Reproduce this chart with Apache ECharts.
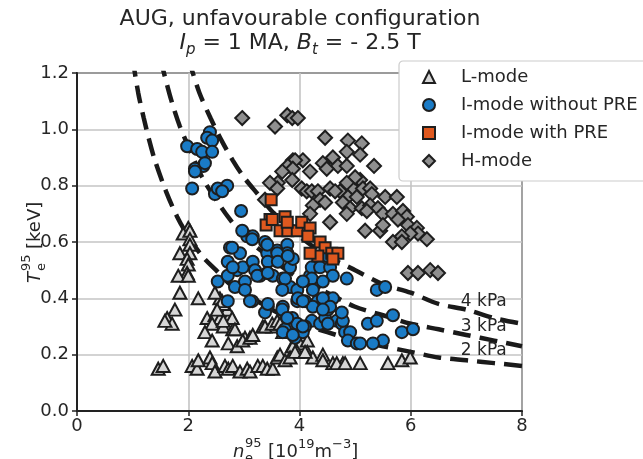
<!DOCTYPE html>
<html><head><meta charset="utf-8">
<script src="https://cdn.jsdelivr.net/npm/echarts@6/dist/echarts.min.js"></script>
<style>html,body{margin:0;padding:0;background:#fff}#c{width:643px;height:459px}</style>
</head><body><div id="c"></div>
<script>
// ---- data ----
const seriesNames = ['L-mode', 'I-mode without PRE', 'I-mode with PRE', 'H-mode'];
const xTicks = [0, 2, 4, 6, 8];
const yTicks = [0.0, 0.2, 0.4, 0.6, 0.8, 1.0, 1.2];

const lMode = [
[2.00,0.65],[1.91,0.63],[2.03,0.64],[2.03,0.61],[2.03,0.59],[1.85,0.56],[2.03,0.56],[1.98,0.54],[2.00,0.52],[1.98,0.49],[1.82,0.48],[2.00,0.48],[1.85,0.42],[2.18,0.40],[1.76,0.36],[1.62,0.33],[1.71,0.31],[1.58,0.32],
[2.34,0.33],[2.48,0.34],[2.57,0.33],[2.72,0.33],[2.43,0.31],[2.63,0.30],[2.30,0.28],[2.80,0.29],[2.70,0.36],[2.57,0.40],[2.63,0.38],[2.48,0.42],[2.61,0.39],[2.52,0.36],[2.79,0.33],[2.63,0.32],[2.84,0.29],[3.02,0.26],[3.34,0.30],[3.52,0.30],[3.70,0.28],[3.87,0.23],[4.01,0.24],[4.14,0.25],[4.14,0.21],[4.24,0.19],[4.42,0.20],[4.60,0.17],[4.78,0.17],
[2.43,0.25],[2.72,0.24],[2.88,0.23],[2.98,0.25],[3.11,0.26],[3.16,0.27],[3.38,0.30],[3.51,0.31],[3.60,0.32],[3.65,0.31],[3.78,0.28],[3.88,0.23],[3.96,0.21],
[1.46,0.15],[1.55,0.16],[2.07,0.16],[2.16,0.15],[2.18,0.18],[2.39,0.19],[2.43,0.17],[2.48,0.14],[2.66,0.16],[2.72,0.15],[2.80,0.16],[2.93,0.14],[3.06,0.15],[3.11,0.14],[3.25,0.16],[3.34,0.16],[3.42,0.15],[3.52,0.15],[3.60,0.19],[3.65,0.20],[3.74,0.18],[3.83,0.19],[3.92,0.21],[4.10,0.21],[4.42,0.18],[4.67,0.17],[4.82,0.17],[5.09,0.17],[5.59,0.17],[5.84,0.18],[5.99,0.19]
];

const iModeNoPre = [
[2.39,0.99],[2.34,0.97],[2.43,0.96],[1.98,0.94],[2.16,0.93],[2.25,0.92],[2.43,0.92],[2.27,0.87],[2.12,0.86],[2.12,0.85],[2.07,0.79],[2.48,0.77],[2.53,0.79],[2.70,0.80],[2.61,0.78],[2.30,0.88],
[2.95,0.71],[3.06,0.62],[3.16,0.62],[2.75,0.58],[2.93,0.56],[3.38,0.60],[3.42,0.56],[3.60,0.57],[3.78,0.59],[3.78,0.56],[2.71,0.53],[2.88,0.50],[2.98,0.51],[3.16,0.53],[3.20,0.50],[2.53,0.46],[2.71,0.48],[2.84,0.44],[3.02,0.46],[3.02,0.43],[2.71,0.39],[3.15,0.39],[3.29,0.48],[3.43,0.53],[3.42,0.49],[3.52,0.48],[3.70,0.47],[3.83,0.51],[3.83,0.44],[3.43,0.37],[3.38,0.35],[3.70,0.37],[3.87,0.33],[3.74,0.29],[3.92,0.26],[3.96,0.39],[3.96,0.43],[3.96,0.31],[3.88,0.54],
[2.97,0.64],[3.15,0.61],[2.79,0.58],[2.80,0.51],[3.24,0.48],[3.11,0.39],[3.43,0.38],[3.42,0.59],[3.60,0.56],[3.61,0.53],[3.43,0.49],[3.79,0.55],[3.74,0.47],[3.69,0.43],[3.69,0.36],[3.78,0.33],[3.70,0.28],[3.97,0.40],[4.10,0.39],[4.19,0.48],[4.22,0.51],[4.37,0.51],[4.28,0.45],[4.33,0.39],[4.24,0.37],[4.22,0.32],[4.10,0.30],[4.37,0.31],[4.46,0.33],[4.51,0.36],[4.60,0.40],[4.42,0.40],[4.55,0.51],[4.60,0.48],[4.85,0.47],[4.49,0.55],[4.67,0.32],[4.76,0.31],[4.82,0.28],[4.91,0.28],[4.87,0.25],[5.03,0.24],[4.78,0.32],
[5.39,0.43],[5.54,0.44],[5.68,0.34],[5.23,0.31],[5.39,0.32],[5.84,0.28],[6.04,0.29],[5.50,0.25],[5.32,0.24],[5.09,0.24],[4.76,0.35],[4.55,0.37],[4.42,0.36],[4.22,0.47],[4.06,0.46],[4.42,0.46],[4.24,0.43],[4.06,0.39],[4.06,0.28],[3.88,0.27],[4.06,0.30],[4.51,0.31]
];

const iModePre = [
[3.49,0.75],[3.47,0.68],[3.40,0.66],[3.74,0.69],[3.65,0.64],[3.79,0.64],[3.96,0.64],[4.04,0.67],[4.19,0.65],[4.15,0.62],[4.37,0.60],[4.46,0.58],[4.58,0.56],[4.69,0.56],[4.60,0.54],[4.33,0.55],[4.19,0.56],[3.78,0.67],[3.51,0.68]
];

const hMode = [
[2.97,1.04],[3.56,1.01],[3.78,1.05],[3.87,1.04],[3.97,1.04],[4.46,0.97],[4.87,0.96],[5.12,0.95],[4.85,0.92],[5.09,0.91],[4.60,0.90],[4.42,0.88],[4.69,0.87],[4.85,0.87],[4.49,0.86],[5.34,0.87],[4.06,0.89],[3.88,0.89],[3.92,0.89],[3.79,0.87],[3.88,0.86],[3.69,0.85],[4.19,0.85],[3.87,0.82],[3.61,0.81],[3.47,0.81],[3.60,0.79],[3.38,0.75],[4.04,0.79],[4.13,0.78],[4.22,0.78],[4.33,0.78],[4.55,0.79],[4.73,0.78],[4.91,0.81],[4.96,0.79],[5.09,0.82],[5.14,0.79],[5.27,0.79],[5.30,0.77],[5.54,0.76],[5.75,0.76],[4.37,0.75],[4.46,0.74],[4.24,0.73],[4.87,0.76],[5.03,0.76],[4.78,0.74],[4.91,0.72],[5.12,0.72],[5.27,0.73],[5.41,0.72],[5.21,0.71],[5.50,0.70],[4.85,0.70],[4.19,0.70],[4.55,0.67],[5.18,0.64],[5.45,0.64],[5.68,0.70],[5.86,0.71],[5.93,0.69],[5.77,0.68],[5.95,0.66],[6.11,0.65],[6.13,0.63],[5.99,0.63],[5.84,0.62],[5.68,0.60],[5.84,0.60],[6.29,0.61],[5.95,0.49],[6.13,0.49],[6.35,0.50],[6.49,0.49],[5.50,0.66],[5.00,0.83],[4.85,0.81],[4.64,0.78]
];

// isobar curves
const isobar2 = [[1.0,1.25],[1.1,1.13],[1.2,1.04],[1.3,0.96],[1.4,0.89],[1.6,0.78],[1.8,0.69],[2.0,0.62],[2.25,0.55],[2.5,0.50],[2.75,0.45],[3.0,0.42],[3.5,0.36],[4.0,0.31],[4.5,0.28],[5.0,0.25],[5.5,0.23],[6.0,0.21],[6.5,0.19],[7.0,0.18],[7.5,0.17],[8.0,0.16]];
const isobar3 = [[1.5,1.25],[1.55,1.21],[1.7,1.10],[1.85,1.01],[2.0,0.94],[2.25,0.83],[2.5,0.75],[2.75,0.68],[3.0,0.62],[3.5,0.54],[4.0,0.47],[4.5,0.42],[5.0,0.37],[5.5,0.34],[6.0,0.31],[6.5,0.29],[7.0,0.27],[7.5,0.25],[8.0,0.23]];
const isobar4 = [[2.0,1.25],[2.05,1.22],[2.2,1.13],[2.4,1.04],[2.6,0.96],[2.8,0.89],[3.0,0.83],[3.25,0.77],[3.5,0.71],[3.75,0.67],[4.0,0.62],[4.5,0.55],[5.0,0.50],[5.5,0.45],[6.0,0.42],[6.5,0.38],[7.0,0.36],[7.5,0.33],[8.0,0.31]];
const isobarLabels = ['2 kPa', '3 kPa', '4 kPa'];
const isobarLabelPos = [[6.9,0.213],[6.9,0.30],[6.9,0.39]];

// ---- chart ----
const FONT = 'DejaVu Sans';
const TXT = '#262626';
const EDGE = '#1e1e1e';
const chart = echarts.init(document.getElementById('c'), null, {renderer: 'canvas'});

function isobarSeries(data, idx) {
  return {
    type: 'line', data: data, smooth: 0.3, showSymbol: false, silent: true, z: 1,
    lineStyle: {color: '#1a1a1a', width: 4.5, type: [18, 9], cap: 'butt'},
    markPoint: {
      symbol: 'circle', symbolSize: 0, silent: true,
      label: {show: true, position: 'right', distance: 0, formatter: isobarLabels[idx],
        color: TXT, fontSize: 17, fontFamily: FONT},
      data: [{coord: isobarLabelPos[idx]}]
    }
  };
}

const option = {
  animation: false,
  textStyle: {fontFamily: FONT},
  grid: {left: 77, right: 121, top: 73, bottom: 48, show: true, borderColor: '#222', borderWidth: 2, backgroundColor: 'transparent'},
  xAxis: {
    type: 'value', min: xTicks[0], max: xTicks[xTicks.length - 1], interval: 2,
    axisLine: {show: true, lineStyle: {color: '#222', width: 2}},
    axisTick: {show: true, inside: false, length: 5, lineStyle: {color: '#222', width: 1.5}},
    axisLabel: {color: TXT, fontSize: 18, margin: 6, fontFamily: FONT},
    splitLine: {show: true, lineStyle: {color: '#c4c4c4', width: 1.6}}
  },
  yAxis: {
    type: 'value', min: yTicks[0], max: yTicks[yTicks.length - 1], interval: 0.2,
    axisLine: {show: true, lineStyle: {color: '#222', width: 2}},
    axisTick: {show: true, inside: false, length: 5, lineStyle: {color: '#222', width: 1.5}},
    axisLabel: {color: TXT, fontSize: 18, margin: 8, fontFamily: FONT, formatter: v => v.toFixed(1)},
    splitLine: {show: true, lineStyle: {color: '#c4c4c4', width: 1.6}}
  },
  legend: {
    data: seriesNames, orient: 'vertical', left: 399, top: 61,
    padding: [7, 10, 11, 23], itemGap: 10, itemWidth: 12, itemHeight: 12,
    backgroundColor: '#fff', borderColor: '#cccccc', borderWidth: 1.2, borderRadius: 4,
    textStyle: {color: TXT, fontSize: 18, fontFamily: FONT, lineHeight: 18, padding: [0, 0, 0, 21]}
  },
  graphic: {elements: [
    {type: 'text', x: 300, y: 19, z: 10, style: {text: 'AUG, unfavourable configuration', fill: TXT,
      fontSize: 22, fontFamily: FONT, align: 'center', verticalAlign: 'middle'}},
    {type: 'text', x: 300, y: 43, z: 10, style: {
      text: '{i|I}{sub|p} = 1 MA, {i|B}{sub|t} = - 2.5 T', fill: TXT,
      fontSize: 22, fontFamily: FONT, lineHeight: 30, align: 'center', verticalAlign: 'middle',
      rich: {
        i: {fontStyle: 'italic', fontSize: 22, fontFamily: FONT, fill: TXT},
        sub: {fontStyle: 'italic', fontSize: 15, lineHeight: 15, verticalAlign: 'bottom', fontFamily: FONT, fill: TXT}
      }}},
    // y axis label
    {type: 'group', x: 35, y: 241, rotation: Math.PI / 2, children: [
      {type: 'text', x: -42, y: 0, style: {text: 'T', fill: TXT, fontSize: 18, fontStyle: 'italic', fontFamily: FONT, align: 'left', verticalAlign: 'middle'}},
      {type: 'text', x: -30, y: -8, style: {text: '95', fill: TXT, fontSize: 13, fontFamily: FONT, align: 'left', verticalAlign: 'middle'}},
      {type: 'text', x: -30, y: 7, style: {text: 'e', fill: TXT, fontSize: 13, fontFamily: FONT, align: 'left', verticalAlign: 'middle'}},
      {type: 'text', x: -8, y: 0, style: {text: '[keV]', fill: TXT, fontSize: 18, fontFamily: FONT, align: 'left', verticalAlign: 'middle'}}
    ]},
    // x axis label
    {type: 'group', x: 233, y: 452, children: [
      {type: 'text', x: 0, y: 0, style: {text: 'n', fill: TXT, fontSize: 18, fontStyle: 'italic', fontFamily: FONT, align: 'left', verticalAlign: 'middle'}},
      {type: 'text', x: 12, y: -8, style: {text: '95', fill: TXT, fontSize: 13, fontFamily: FONT, align: 'left', verticalAlign: 'middle'}},
      {type: 'text', x: 12, y: 7, style: {text: 'e', fill: TXT, fontSize: 13, fontFamily: FONT, align: 'left', verticalAlign: 'middle'}},
      {type: 'text', x: 35, y: 0, style: {
        text: '[10{sup|19}m{sup|−3}]', fill: TXT, fontSize: 18, lineHeight: 28, fontFamily: FONT, align: 'left', verticalAlign: 'middle',
        rich: {sup: {fontSize: 13, lineHeight: 13, verticalAlign: 'top', fontFamily: FONT, fill: TXT}}}}
    ]}
  ]},
  series: [
    isobarSeries(isobar2, 0), isobarSeries(isobar3, 1), isobarSeries(isobar4, 2),
    {name: seriesNames[3], type: 'scatter', data: hMode, symbol: 'diamond', symbolSize: 14, z: 3,
      itemStyle: {color: '#8f8f8f', borderColor: EDGE, borderWidth: 2, opacity: 1}},
    {name: seriesNames[0], type: 'scatter', data: lMode, symbol: 'triangle', symbolSize: [13, 12], z: 4,
      itemStyle: {color: '#d6d6d6', borderColor: EDGE, borderWidth: 2, opacity: 1}},
    {name: seriesNames[1], type: 'scatter', data: iModeNoPre, symbol: 'circle', symbolSize: 12, z: 5,
      itemStyle: {color: '#1a7bc6', borderColor: EDGE, borderWidth: 2, opacity: 1}},
    {name: seriesNames[2], type: 'scatter', data: iModePre, symbol: 'rect', symbolSize: 11, z: 6,
      itemStyle: {color: '#e0591f', borderColor: EDGE, borderWidth: 2, opacity: 1}}
  ]
};
chart.setOption(option);
</script></body></html>
